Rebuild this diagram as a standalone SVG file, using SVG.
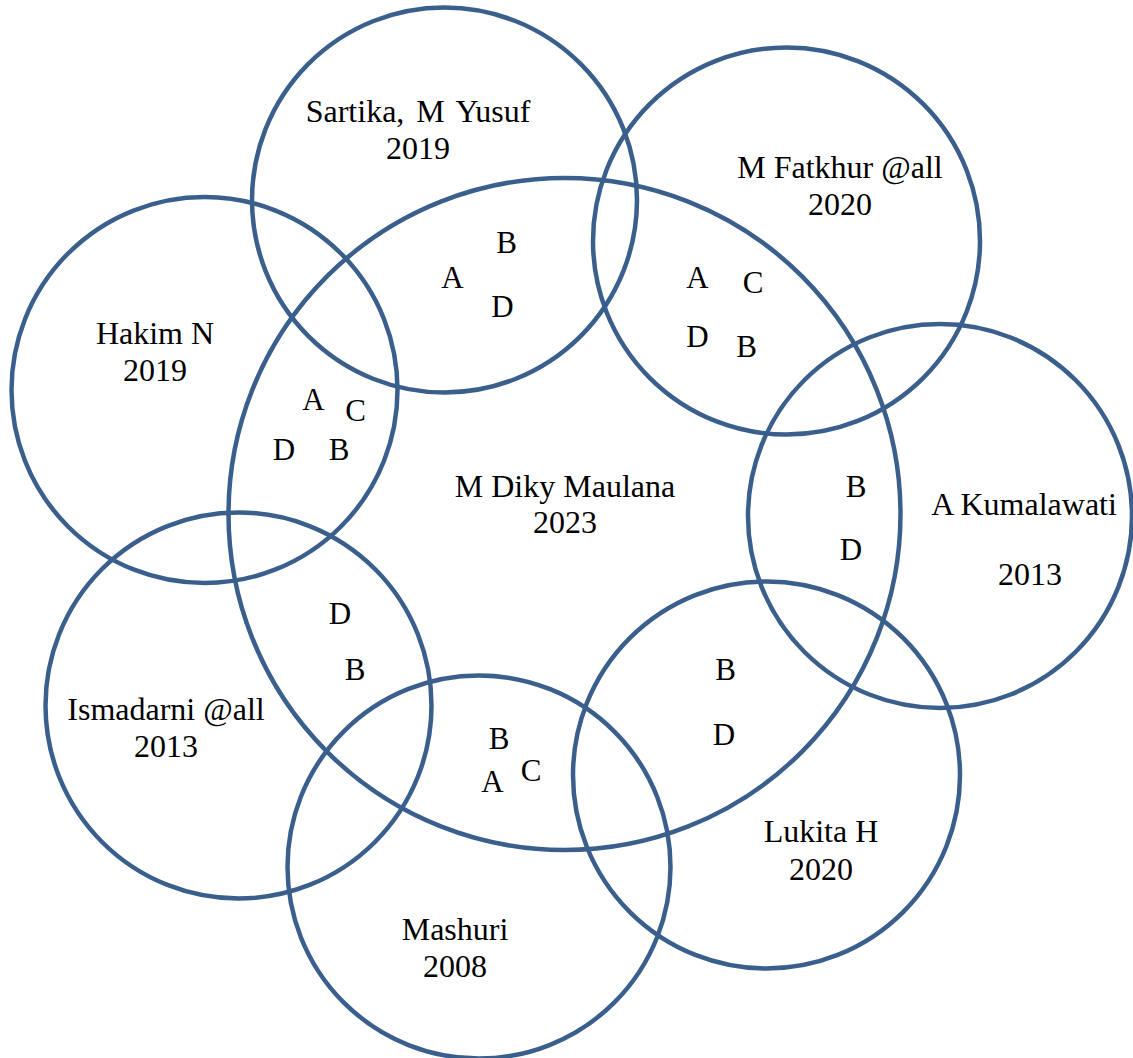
<svg xmlns="http://www.w3.org/2000/svg" width="1133" height="1058" viewBox="0 0 1133 1058">
<style>
.c{fill:none;stroke:#3A5F8D;stroke-width:4.5}
text{font-family:"Liberation Serif","Times New Roman",serif;font-size:31px;fill:#000;text-anchor:middle}
.n{font-size:32px}
</style>
<rect width="1133" height="1058" fill="#fff"/>
<g id="center-node">
<circle class="c" cx="564.5" cy="514" r="336"/>
<text class="n" x="565" y="497">M Diky Maulana</text>
<text class="n" x="565" y="533">2023</text>
</g>
<g id="sartika">
<circle class="c" cx="444.5" cy="200" r="192.5"/>
<text class="n" x="418" y="122" word-spacing="4">Sartika, M Yusuf</text>
<text class="n" x="418" y="159">2019</text>
</g>
<g id="fatkhur">
<circle class="c" cx="786.5" cy="241" r="193.5"/>
<text class="n" x="840" y="178">M Fatkhur @all</text>
<text class="n" x="840" y="215">2020</text>
</g>
<g id="hakim">
<circle class="c" cx="204.5" cy="390" r="193"/>
<text class="n" x="155" y="344">Hakim N</text>
<text class="n" x="155" y="381">2019</text>
</g>
<g id="kumalawati">
<circle class="c" cx="940" cy="516" r="192"/>
<text class="n" x="1024" y="515">A Kumalawati</text>
<text class="n" x="1030" y="585">2013</text>
</g>
<g id="ismadarni">
<circle class="c" cx="238.5" cy="705.5" r="193"/>
<text class="n" x="166" y="720">Ismadarni @all</text>
<text class="n" x="166" y="757">2013</text>
</g>
<g id="lukita">
<circle class="c" cx="766.5" cy="775" r="193.5"/>
<text class="n" x="821" y="842">Lukita H</text>
<text class="n" x="821" y="880">2020</text>
</g>
<g id="mashuri">
<circle class="c" cx="479" cy="867" r="191.5"/>
<text class="n" x="455" y="940">Mashuri</text>
<text class="n" x="455" y="977">2008</text>
</g>
<g id="overlap-labels">
<text x="506.5" y="253">B</text>
<text x="452.5" y="288">A</text>
<text x="502.5" y="317">D</text>
<text x="697.5" y="288">A</text>
<text x="753" y="293">C</text>
<text x="697.5" y="347">D</text>
<text x="746.5" y="357">B</text>
<text x="313.5" y="410">A</text>
<text x="355.5" y="421">C</text>
<text x="284" y="460">D</text>
<text x="339" y="460">B</text>
<text x="340" y="624">D</text>
<text x="355" y="680">B</text>
<text x="499" y="749">B</text>
<text x="531" y="781">C</text>
<text x="492.5" y="792">A</text>
<text x="725.5" y="680">B</text>
<text x="724" y="745">D</text>
<text x="856" y="497">B</text>
<text x="851" y="560">D</text>
</g>
<g id="connectors"/>
</svg>
